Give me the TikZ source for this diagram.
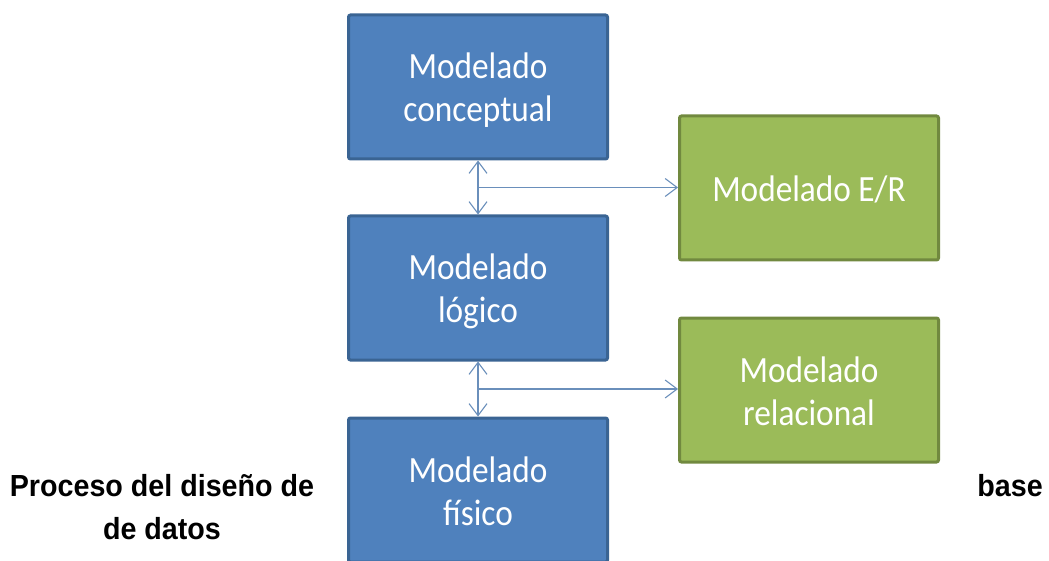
\documentclass[tikz,border=0pt]{standalone}
\usepackage{fontspec}
\setmainfont{Liberation Sans}
\newfontfamily\boxfont[FakeStretch=0.9]{Carlito}
\newfontfamily\capfont[FakeStretch=0.94]{Liberation Sans}
\usetikzlibrary{arrows.meta}
\definecolor{bluefill}{HTML}{4F81BD}
\definecolor{blueedge}{HTML}{3A6493}
\definecolor{greenfill}{HTML}{9BBB59}
\definecolor{greenedge}{HTML}{71893F}
\definecolor{linkcol}{HTML}{6A8FBB}
\newcommand\lnstrut{\rule[-5pt]{0pt}{37pt}}
\begin{document}
\begin{tikzpicture}[x=1pt,y=-1pt,
  boxbase/.style={draw, line width=3pt, rounded corners=2pt, text=white,
    font=\boxfont\fontsize{37}{43}\selectfont, align=center,
    minimum width=259pt, minimum height=144pt, inner sep=0pt},
  bluebox/.style={boxbase, fill=bluefill, draw=blueedge},
  greenbox/.style={boxbase, fill=greenfill, draw=greenedge},
  link/.style={draw=linkcol, line width=1.1pt, {Straight Barb[length=12pt,width=18pt]}-{Straight Barb[length=12pt,width=18pt]}},
  linkone/.style={draw=linkcol, line width=1.1pt, -{Straight Barb[length=12pt,width=18pt]}},
  caption/.style={font=\capfont\bfseries\fontsize{30.5}{36}\selectfont, inner sep=0pt}]
\useasboundingbox (0,0) rectangle (1049,561);
\begin{scope}
\clip (0,0) rectangle (1049,561);
\node[bluebox] (con) at (478,87) {\lnstrut Modelado\\\lnstrut conceptual};
\node[bluebox] (log) at (478,288) {\lnstrut Modelado\\\lnstrut lógico};
\node[bluebox] (fis) at (478,490) {\lnstrut Modelado\\\lnstrut físico};
\node[greenbox] (er) at (809,188) {\lnstrut Modelado E/R};
\node[greenbox] (rel) at (809,390) {\lnstrut Modelado\\\lnstrut relacional};
\end{scope}
\draw[link] (con.south) -- (log.north);
\draw[link] (log.south) -- (fis.north);
\path (con.south) -- (log.north) coordinate[pos=0.5] (j1);
\path (log.south) -- (fis.north) coordinate[pos=0.5] (j2);
\draw[linkone] (j1) -- (j1 -| er.west);
\draw[linkone] (j2) -- (j2 -| rel.west);
\node[caption, anchor=base] (t1) at (162,496) {Proceso del diseño de};
\node[caption, anchor=base] (t2) at (162,539) {de datos};
\node[caption, anchor=base east] (t3) at (1043,496) {base};
\end{tikzpicture}
\end{document}
